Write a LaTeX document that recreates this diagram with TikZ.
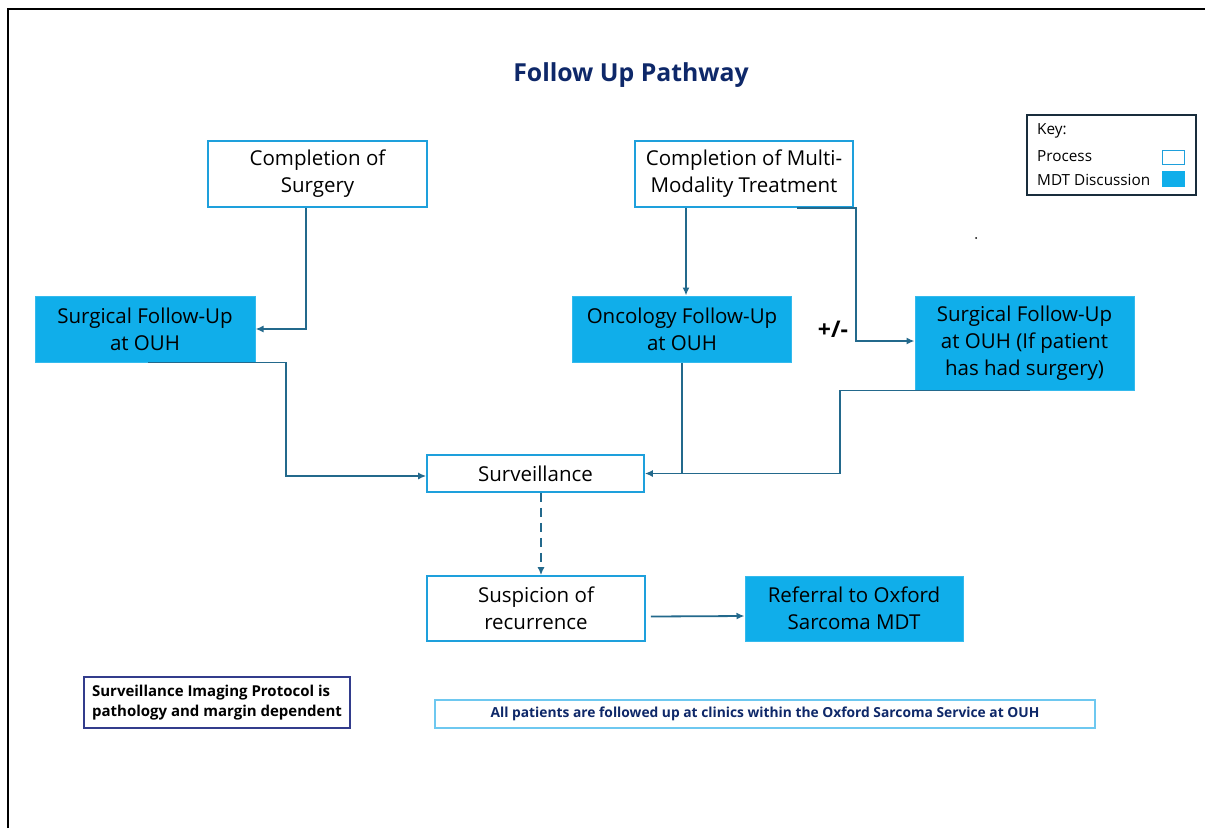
\documentclass[tikz,border=0pt]{standalone}
\usepackage{fontspec}
\setmainfont{Open Sans}
\usetikzlibrary{arrows.meta,calc}
\definecolor{boxline}{RGB}{30,160,220}
\definecolor{mdtfill}{RGB}{16,174,234}
\definecolor{conn}{RGB}{35,105,140}
\definecolor{navy}{RGB}{14,40,105}
\definecolor{keyline}{RGB}{25,45,60}
\definecolor{noteline}{RGB}{50,60,140}
\definecolor{lightline}{RGB}{110,200,240}
\newcommand\boxfont{\fontsize{20.5}{27}\selectfont}
\begin{document}
\begin{tikzpicture}[x=1pt,y=-1pt,
  proc/.style={draw=boxline,line width=1.6pt,fill=white,align=center,inner sep=0pt,font=\boxfont},
  mdt/.style={draw=mdtfill!85!white,line width=1pt,fill=mdtfill,align=center,inner sep=0pt,font=\boxfont},
  conn/.style={draw=conn,line width=1.8pt},
  arr/.style={conn,-{Latex[length=8pt,width=7pt]}},
  keytxt/.style={anchor=west,inner sep=0pt,font=\fontsize{15.3}{18}\selectfont}]
\useasboundingbox (0,0) rectangle (1205,828);
\fill[white] (0,0) rectangle (1205,828);
\draw[line width=2.5pt,black] (8,828) -- (8,9) -- (1205,9);

\node[font=\bfseries\fontsize{24.8}{28}\selectfont,text=navy] (title) at (631,75) {Follow Up Pathway};

% key
\node[draw=keyline,line width=1.8pt,minimum width=169pt,minimum height=80pt,inner sep=0pt] (key) at (1111.5,155) {};
\node[keytxt] (k1) at (1037,131) {Key:};
\node[keytxt] (k2) at (1037,156) {Process};
\node[keytxt] (k3) at (1037,180) {MDT Discussion};
\node[draw=boxline,line width=1.5pt,minimum width=22pt,minimum height=14pt,inner sep=0pt] (kp) at (1173.5,157.5) {};
\node[fill=mdtfill,minimum width=23pt,minimum height=16pt,inner sep=0pt] (km) at (1173.5,179) {};

% boxes
\node[proc,minimum width=219pt,minimum height=66pt] (cs) at (317.5,174) {Completion of\\Surgery};
\node[proc,minimum width=218pt,minimum height=66pt] (cm) at (744,174) {Completion of Multi-\\Modality Treatment};
\node[mdt,minimum width=220pt,minimum height=66pt] (sl) at (145,329) {Surgical Follow-Up\\at OUH};
\node[mdt,minimum width=219pt,minimum height=66pt] (onc) at (682,329) {Oncology Follow-Up\\at OUH};
\node[mdt,minimum width=219pt,minimum height=94pt] (sr) at (1024.5,343) {Surgical Follow-Up\\at OUH (If patient\\has had surgery)};
\node[proc,minimum width=217pt,minimum height=37pt] (surv) at (535.5,473.5) {Surveillance};
\node[proc,minimum width=218pt,minimum height=65pt] (susp) at (536,608.5) {Suspicion of\\recurrence};
\node[mdt,minimum width=218pt,minimum height=65pt] (ref) at (854,608.5) {Referral to Oxford\\Sarcoma MDT};

\node[font=\bfseries\fontsize{23}{26}\selectfont] (pm) at (833,329) {+/-};
\fill[black] (976,238) circle (1pt);

% notes
\node[draw=noteline,line width=1.2pt,minimum width=266pt,minimum height=51pt,inner sep=0pt,align=left,font=\bfseries\fontsize{15}{20}\selectfont] (n1) at (217,702.5) {Surveillance Imaging Protocol is\\pathology and margin dependent};
\node[draw=lightline,line width=1.2pt,minimum width=660pt,minimum height=28pt,inner sep=0pt,text=navy,font=\bfseries\fontsize{13.8}{16}\selectfont] (n2) at (765,714) {All patients are followed up at clinics within the Oxford Sarcoma Service at OUH};

% bend coordinates
\coordinate (b3) at (856,341);
\coordinate (b4) at (286,476);
\coordinate (b6) at (840,473.5);

% connectors
\draw[arr] ([xshift=-11.5pt]cs.south) |- (sl.east);
\draw[arr] ([xshift=-58pt]cm.south) -- ([xshift=-58pt]cm.south |- onc.north);
\draw[arr] ([xshift=53pt]cm.south) -| (b3) -- (b3 -| sr.west);
\draw[arr] ([xshift=3pt]sl.south) -| (b4) -- (b4 -| surv.west);
\draw[arr] (onc.south) |- (surv.east);
\draw[conn] ([xshift=5.5pt]sr.south) -| (b6) -- (b6 -| onc.south);
\draw[arr,dash pattern=on 9pt off 6pt] ([xshift=5.5pt]surv.south) -- ([xshift=5.5pt]surv.south |- susp.north);
\draw[arr] ([yshift=-8pt,xshift=5pt]susp.east) -- ([yshift=-7.5pt]ref.west);
\end{tikzpicture}
\end{document}
